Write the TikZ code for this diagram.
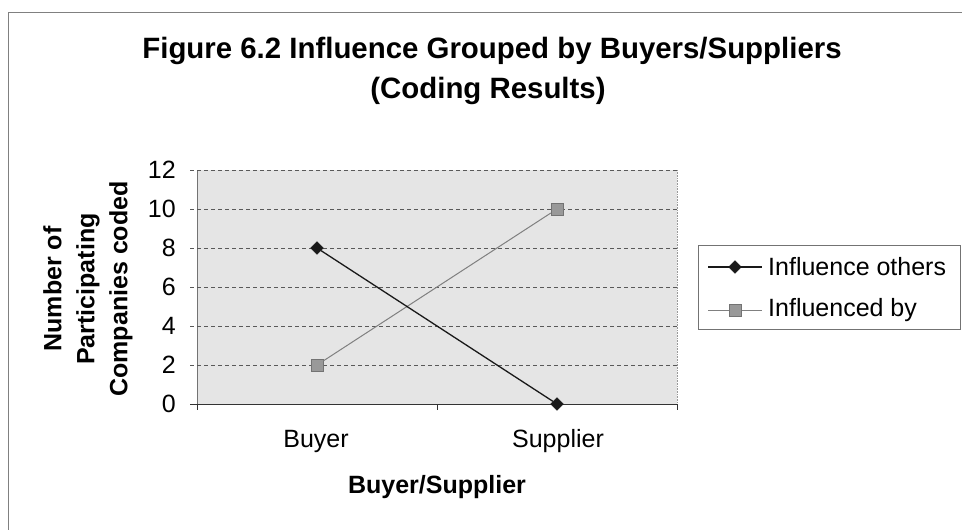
\documentclass[tikz,border=0pt]{standalone}
\usepackage{fontspec}
\setmainfont{Liberation Sans}
\usetikzlibrary{shapes.geometric}
\begin{document}
\begin{tikzpicture}[x=1pt,y=-1pt,
  txt/.style={font=\fontsize{25}{30}\selectfont, inner sep=0pt},
  btxt/.style={font=\fontsize{25}{33}\selectfont\bfseries, inner sep=0pt},
  ttxt/.style={font=\fontsize{29.4}{40}\selectfont\bfseries, inner sep=0pt, anchor=base},
  gridline/.style={black!65, line width=0.8pt, dash pattern=on 4pt off 3pt},
  dmark/.style={diamond, fill=black!90, draw=black!90, minimum size=13pt, inner sep=0pt},
  smark/.style={rectangle, fill=black!40, draw=black!55, minimum size=12pt, inner sep=0pt},
  sAline/.style={black!90, line width=1.3pt},
  sBline/.style={black!50, line width=1pt},
]
\useasboundingbox (0,0) rectangle (962,530);
\fill[white] (0,0) rectangle (962,530);

% chart frame (continues past the page edges)
\draw[black!50, line width=0.8pt] (962,12) -- (8,12) -- (8,530);

% title
\node[ttxt] (title1) at (492,58) {Figure 6.2 Influence Grouped by Buyers/Suppliers};
\node[ttxt] (title2) at (488,98) {(Coding Results)};

% plot area
\fill[black!10] (197,170) rectangle (677,404);
\draw[black!40, line width=0.6pt, densely dotted] (677,170) -- (677,404);
\draw[black!55, line width=0.6pt] (197,170) -- (197,404);

% horizontal grid lines with their value labels
\foreach \v in {2,4,...,12}
  \draw[gridline] (190,{404-19.5*\v}) -- (677,{404-19.5*\v});
\foreach \v in {0,2,...,12}
  \node[txt, anchor=east] (yl\v) at (176,{404-19.5*\v}) {\v};

% category axis
\draw[black!80, line width=1pt] (190,404) -- (677,404);
\foreach \x in {197,437,677}
  \draw[black!80, line width=0.8pt] (\x,404) -- (\x,410);
\node[txt] (buyer) at (316,441) {Buyer};
\node[txt] (supplier) at (558,441) {Supplier};
\node[btxt] (xtitle) at (437,487) {Buyer/Supplier};

% value axis title
\node[btxt, rotate=90, align=center] (ytitle) at (88,289) {Number of\\Participating\\Companies coded};

% series: Influenced by
\node[smark] (ib1) at (317,365) {};
\node[smark] (ib2) at (557,209) {};
\draw[sBline] (ib1) -- (ib2);

% series: Influence others
\node[dmark] (io1) at (317,248) {};
\node[dmark] (io2) at (557,404) {};
\draw[sAline] (io1) -- (io2);

% legend
\node[draw=black!55, line width=0.8pt, minimum width=262pt, minimum height=84pt,
      anchor=north west, inner sep=0pt] (legend) at (698,245) {};
\coordinate (la1) at (708,267);
\coordinate (la2) at (762,267);
\coordinate (lb1) at (708,310);
\coordinate (lb2) at (762,310);
\draw[sAline] (la1) -- (la2);
\node[dmark] (lam) at (735,267) {};
\draw[sBline] (lb1) -- (lb2);
\node[smark] (lbm) at (735,310) {};
\node[txt, anchor=west] (lat) at (768,267) {Influence others};
\node[txt, anchor=west] (lbt) at (768,310) {Influenced by};
\end{tikzpicture}
\end{document}
